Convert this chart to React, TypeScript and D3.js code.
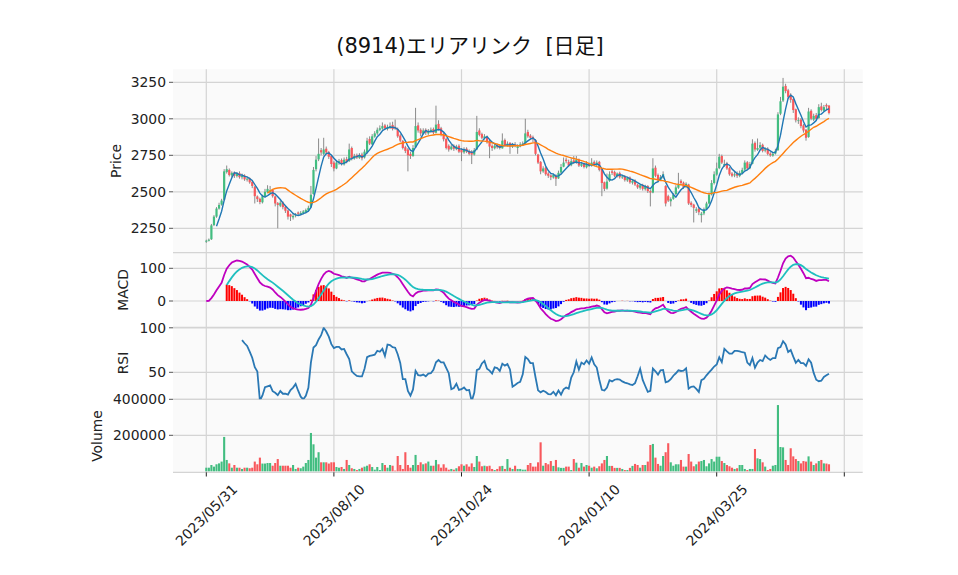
import React from "react";
import * as d3 from "d3";

const W = 958;
const H = 575;

const title = "(8914)エリアリンク  [日足]";

const openP = [
  2158, 2165, 2175, 2272, 2330, 2385, 2412, 2445, 2635, 2650, 2612, 2632, 2608, 2628, 2600, 2612, 2583, 2592, 2568, 2535,
  2468, 2452, 2428, 2470, 2498, 2495, 2512, 2468, 2422, 2405, 2428, 2398, 2372, 2345, 2325, 2338, 2358, 2348, 2355, 2362,
  2372, 2395, 2485, 2655, 2722, 2785, 2760, 2795, 2772, 2745, 2700, 2660, 2698, 2718, 2688, 2725, 2710, 2800, 2728, 2750,
  2732, 2755, 2735, 2770, 2862, 2825, 2878, 2900, 2925, 2933, 2955, 2930, 2940, 2958, 2945, 2930, 2885, 2848, 2805, 2790,
  2760, 2745, 2805, 2955, 2925, 2898, 2925, 2900, 2912, 2930, 2905, 2965, 2935, 2895, 2862, 2815, 2792, 2815, 2792, 2815,
  2790, 2770, 2795, 2780, 2775, 2755, 2790, 2920, 2895, 2868, 2878, 2850, 2815, 2798, 2822, 2815, 2798, 2855, 2818, 2835,
  2808, 2825, 2800, 2812, 2822, 2832, 2910, 2885, 2875, 2855, 2755, 2705, 2640, 2665, 2625, 2612, 2598, 2612, 2592, 2632,
  2672, 2720, 2705, 2682, 2715, 2698, 2722, 2678, 2695, 2668, 2692, 2678, 2705, 2683, 2705, 2655, 2565, 2522, 2575, 2640,
  2635, 2608, 2628, 2598, 2608, 2578, 2598, 2562, 2578, 2548, 2528, 2548, 2518, 2540, 2505, 2495, 2665, 2615, 2582, 2598,
  2540, 2470, 2435, 2452, 2485, 2528, 2575, 2562, 2532, 2550, 2425, 2412, 2370, 2385, 2340, 2352, 2382, 2420, 2482, 2560,
  2618, 2662, 2745, 2680, 2695, 2662, 2625, 2612, 2625, 2608, 2628, 2652, 2702, 2662, 2692, 2835, 2788, 2802, 2822, 2782,
  2795, 2762, 2748, 2762, 2785, 3035, 3125, 3225, 3195, 3165, 3135, 3065, 2985, 2995, 2955, 2925, 2875, 3055, 2995, 3025,
  3005, 3085, 3055, 3095, 3090,
];

const highP = [
  2172, 2180, 2280, 2340, 2395, 2425, 2452, 2655, 2680, 2660, 2640, 2640, 2635, 2640, 2625, 2620, 2600, 2598, 2575, 2540,
  2475, 2460, 2480, 2520, 2545, 2540, 2518, 2475, 2430, 2440, 2435, 2405, 2378, 2350, 2352, 2355, 2365, 2368, 2375, 2385,
  2405, 2540, 2670, 2745, 2865, 2800, 2870, 2810, 2780, 2750, 2710, 2715, 2725, 2728, 2735, 2740, 2830, 2810, 2760, 2762,
  2765, 2768, 2790, 2870, 2880, 2895, 2915, 2940, 2955, 2975, 2965, 2960, 2975, 2980, 2995, 2940, 2895, 2855, 2815, 2800,
  2775, 2820, 3075, 2975, 2935, 2935, 2935, 2930, 2940, 2940, 3090, 2990, 2945, 2905, 2870, 2825, 2825, 2825, 2822, 2825,
  2800, 2805, 2805, 2790, 2785, 2800, 3020, 2935, 2905, 2895, 2885, 2860, 2825, 2830, 2830, 2825, 2900, 2865, 2845, 2840,
  2835, 2840, 2825, 2840, 2845, 3000, 2925, 2895, 2885, 2860, 2760, 2710, 2675, 2670, 2635, 2620, 2625, 2620, 2645, 2690,
  2735, 2735, 2720, 2730, 2745, 2745, 2728, 2705, 2700, 2710, 2700, 2730, 2715, 2715, 2712, 2660, 2570, 2625, 2640, 2650,
  2645, 2632, 2638, 2612, 2615, 2600, 2605, 2585, 2585, 2555, 2552, 2555, 2548, 2545, 2515, 2730, 2680, 2625, 2615, 2640,
  2545, 2480, 2462, 2490, 2545, 2630, 2585, 2570, 2565, 2555, 2435, 2418, 2395, 2392, 2362, 2392, 2432, 2495, 2580, 2640,
  2700, 2760, 2755, 2720, 2705, 2670, 2635, 2635, 2640, 2645, 2665, 2715, 2710, 2705, 2860, 2845, 2865, 2840, 2830, 2805,
  2805, 2772, 2775, 2795, 3045, 3150, 3280, 3240, 3205, 3175, 3140, 3070, 3010, 3005, 2965, 2930, 3075, 3065, 3035, 3040,
  3100, 3110, 3095, 3105, 3095,
];

const lowP = [
  2150, 2160, 2170, 2265, 2322, 2378, 2405, 2440, 2625, 2605, 2600, 2595, 2598, 2590, 2585, 2575, 2570, 2555, 2525, 2420,
  2430, 2415, 2420, 2460, 2490, 2485, 2460, 2400, 2250, 2395, 2380, 2355, 2310, 2300, 2310, 2325, 2335, 2340, 2345, 2352,
  2365, 2390, 2480, 2640, 2710, 2750, 2750, 2755, 2725, 2670, 2640, 2655, 2685, 2680, 2680, 2695, 2705, 2715, 2720, 2725,
  2725, 2715, 2728, 2760, 2820, 2820, 2870, 2890, 2915, 2925, 2925, 2920, 2930, 2920, 2925, 2870, 2840, 2790, 2765, 2640,
  2725, 2740, 2800, 2905, 2880, 2890, 2890, 2890, 2905, 2895, 2900, 2920, 2880, 2845, 2790, 2775, 2785, 2780, 2785, 2765,
  2710, 2760, 2765, 2750, 2690, 2748, 2785, 2880, 2860, 2858, 2830, 2730, 2780, 2790, 2795, 2790, 2795, 2810, 2810, 2760,
  2800, 2805, 2760, 2805, 2815, 2825, 2870, 2855, 2840, 2750, 2690, 2620, 2630, 2610, 2595, 2580, 2590, 2540, 2588, 2625,
  2668, 2695, 2670, 2675, 2690, 2692, 2670, 2670, 2660, 2660, 2670, 2672, 2675, 2675, 2640, 2470, 2505, 2515, 2568, 2615,
  2600, 2598, 2590, 2588, 2570, 2568, 2555, 2550, 2540, 2520, 2515, 2508, 2508, 2492, 2400, 2490, 2600, 2565, 2575, 2590,
  2400, 2430, 2400, 2445, 2478, 2520, 2545, 2520, 2525, 2410, 2395, 2290, 2355, 2340, 2290, 2340, 2375, 2415, 2475, 2550,
  2610, 2655, 2690, 2670, 2650, 2610, 2600, 2600, 2595, 2600, 2620, 2645, 2650, 2655, 2688, 2775, 2780, 2790, 2770, 2770,
  2750, 2740, 2740, 2755, 2780, 3025, 3115, 3175, 3135, 3110, 3040, 2975, 2965, 2935, 2905, 2850, 2870, 2990, 2985, 2990,
  3000, 3050, 3048, 3060, 3030,
];

const closeP = [
  2165, 2172, 2270, 2330, 2385, 2410, 2440, 2640, 2655, 2615, 2630, 2610, 2625, 2600, 2610, 2585, 2590, 2565, 2540, 2470,
  2450, 2430, 2470, 2500, 2520, 2510, 2470, 2420, 2410, 2425, 2395, 2370, 2330, 2330, 2335, 2345, 2350, 2355, 2365, 2375,
  2390, 2480, 2650, 2720, 2760, 2770, 2790, 2770, 2740, 2690, 2660, 2700, 2710, 2690, 2720, 2705, 2790, 2730, 2745, 2735,
  2750, 2730, 2775, 2850, 2830, 2880, 2900, 2925, 2935, 2950, 2935, 2945, 2950, 2930, 2935, 2880, 2850, 2800, 2780, 2750,
  2745, 2800, 2950, 2920, 2900, 2920, 2905, 2915, 2925, 2905, 2960, 2930, 2890, 2860, 2800, 2790, 2810, 2795, 2810, 2775,
  2770, 2790, 2775, 2760, 2755, 2785, 2910, 2890, 2870, 2880, 2840, 2810, 2800, 2815, 2805, 2800, 2850, 2820, 2830, 2810,
  2820, 2815, 2810, 2825, 2830, 2900, 2880, 2870, 2860, 2760, 2700, 2640, 2660, 2620, 2610, 2600, 2615, 2590, 2630, 2670,
  2700, 2710, 2680, 2710, 2700, 2720, 2680, 2690, 2670, 2690, 2680, 2700, 2685, 2700, 2650, 2560, 2520, 2570, 2620, 2630,
  2610, 2625, 2600, 2605, 2580, 2595, 2565, 2575, 2550, 2530, 2545, 2520, 2540, 2505, 2495, 2660, 2610, 2580, 2600, 2620,
  2420, 2440, 2450, 2480, 2530, 2550, 2560, 2530, 2555, 2420, 2410, 2390, 2380, 2360, 2350, 2380, 2420, 2480, 2560, 2620,
  2660, 2740, 2700, 2690, 2660, 2620, 2610, 2620, 2610, 2630, 2650, 2700, 2660, 2690, 2830, 2790, 2800, 2820, 2780, 2790,
  2760, 2750, 2760, 2780, 3030, 3120, 3220, 3190, 3150, 3130, 3060, 2990, 2990, 2950, 2920, 2870, 3050, 3000, 3020, 3000,
  3080, 3060, 3080, 3085, 3040,
];

const volume = [
  20000, 20000, 35000, 26000, 39000, 44000, 54000, 191000, 63000, 44000, 20000, 35000, 20000, 20000, 13000, 20000, 20000, 17000, 20000, 54000,
  39000, 76000, 43000, 43000, 46000, 46000, 31000, 46000, 68000, 31000, 31000, 31000, 31000, 20000, 35000, 13000, 20000, 17000, 26000, 46000,
  63000, 213000, 150000, 76000, 106000, 50000, 50000, 50000, 43000, 50000, 50000, 24000, 20000, 24000, 13000, 63000, 35000, 17000, 13000, 7000,
  13000, 20000, 26000, 31000, 39000, 24000, 9000, 24000, 7000, 46000, 35000, 20000, 35000, 31000, 4000, 85000, 35000, 13000, 106000, 35000,
  20000, 35000, 91000, 35000, 50000, 39000, 44000, 54000, 31000, 31000, 63000, 39000, 20000, 39000, 20000, 9000, 13000, 9000, 17000, 28000,
  39000, 31000, 39000, 26000, 44000, 24000, 85000, 54000, 28000, 31000, 28000, 31000, 13000, 7000, 13000, 28000, 30000, 13000, 68000, 20000,
  13000, 31000, 13000, 13000, 9000, 9000, 35000, 46000, 26000, 26000, 50000, 161000, 31000, 46000, 39000, 57000, 30000, 63000, 22000, 19000,
  19000, 26000, 26000, 7000, 68000, 48000, 20000, 46000, 26000, 35000, 31000, 20000, 26000, 17000, 28000, 44000, 63000, 85000, 30000, 30000,
  19000, 19000, 19000, 13000, 7000, 7000, 19000, 30000, 41000, 35000, 20000, 35000, 35000, 54000, 146000, 152000, 76000, 41000, 31000, 85000,
  106000, 156000, 50000, 31000, 39000, 39000, 63000, 26000, 26000, 96000, 54000, 28000, 39000, 54000, 57000, 63000, 28000, 44000, 68000, 54000,
  81000, 81000, 57000, 46000, 35000, 28000, 20000, 13000, 17000, 35000, 35000, 13000, 7000, 13000, 13000, 124000, 72000, 68000, 50000, 26000,
  7000, 13000, 31000, 35000, 368000, 135000, 133000, 63000, 35000, 128000, 83000, 68000, 57000, 44000, 57000, 54000, 83000, 54000, 35000, 44000,
  57000, 63000, 44000, 43000, 39000,
];

const xTickIdx = [0, 50, 100, 150, 200, 250];
const xTickLabels = ["2023/05/31", "2023/08/10", "2023/10/24", "2024/01/10", "2024/03/25", ""];
const priceTicks = [2250, 2500, 2750, 3000, 3250];
const macdTicks = [0, 100];
const rsiTicks = [50, 100];
const volTicks = [200000, 400000];

const UP = "#42bd80";
const DOWN = "#f8585c";
const GRID = "#d4d4d4";
const BG = "#fafafa";
const FONT = "DejaVu Sans, 'Noto Sans CJK JP', sans-serif";

function sma(a: number[], n: number): (number | null)[] {
  return a.map((_, i) => (i < n - 1 ? null : (d3.mean(a.slice(i - n + 1, i + 1)) as number)));
}
function ema(a: number[], span: number): number[] {
  const k = 2 / (span + 1);
  const out: number[] = [];
  a.forEach((v, i) => out.push(i === 0 ? v : k * v + (1 - k) * out[i - 1]));
  return out;
}
function rsi(a: number[], n: number): (number | null)[] {
  return a.map((_, i) => {
    if (i < n) return null;
    let g = 0,
      l = 0;
    for (let j = i - n + 1; j <= i; j++) {
      const d = a[j] - a[j - 1];
      if (d > 0) g += d;
      else l -= d;
    }
    if (g + l === 0) return 50;
    return (100 * g) / (g + l);
  });
}

const PL = 173,
  PR = 862.7;
const panels = {
  price: [69.3, 252.7],
  macd: [252.7, 327.3],
  rsi: [327.3, 399.3],
  vol: [399.3, 472.3],
};

export default function App() {
  const n = closeP.length;
  const idx = d3.range(n);
  const x = d3.scaleLinear().domain([0, 250]).range([206.3, 844.3]);
  const yP = d3.scaleLinear().domain([2250, 3250]).range([228.3, 82.3]);
  const yM = d3.scaleLinear().domain([0, 100]).range([301, 268.3]);
  const yR = d3.scaleLinear().domain([50, 100]).range([372.3, 327.8]);
  const yV = d3.scaleLinear().domain([0, 400000]).range([471.3, 399.3]);

  const ma5 = sma(closeP, 5);
  const ma25 = sma(closeP, 25);
  const e12 = ema(closeP, 12);
  const e26 = ema(closeP, 26);
  const macd = e12.map((v, i) => v - e26[i]);
  const sig = ema(macd, 9);
  const hist = macd.map((v, i) => v - sig[i]);
  const rsiV = rsi(closeP, 14);

  const mkLine = (vals: (number | null)[], y: d3.ScaleLinear<number, number>, start = 0) =>
    d3
      .line<number>()
      .defined((i) => i >= start && vals[i] != null)
      .x((i) => x(i))
      .y((i) => y(vals[i] as number))(idx) || "";

  const bw = 2.2;
  const vw = 2.1;
  const up = (i: number) => closeP[i] >= openP[i];

  const panelRect = (k: keyof typeof panels) => {
    const [t, b] = panels[k];
    return <rect x={PL} y={t} width={PR - PL} height={b - t} fill={BG} />;
  };

  const vgrid = (k: keyof typeof panels) => {
    const [t, b] = panels[k];
    return xTickIdx.map((v) => (
      <line key={k + v} x1={x(v)} x2={x(v)} y1={t} y2={b} stroke={GRID} strokeWidth={1.2} />
    ));
  };
  const hgrid = (ticks: number[], y: (v: number) => number, k: string, fmt: (v: number) => string) =>
    ticks.map((v) => (
      <g key={k + v}>
        <line x1={PL} x2={PR} y1={y(v)} y2={y(v)} stroke={GRID} strokeWidth={1.2} />
        <line x1={PL - 4} x2={PL} y1={y(v)} y2={y(v)} stroke="#555" strokeWidth={1} />
        <text x={PL - 7} y={y(v)} textAnchor="end" dominantBaseline="central" fontSize={13.9} fill="#222">
          {fmt(v)}
        </text>
      </g>
    ));

  const clip = (k: keyof typeof panels) => {
    const [t, b] = panels[k];
    return (
      <clipPath id={"c-" + k}>
        <rect x={PL} y={t} width={PR - PL} height={b - t} />
      </clipPath>
    );
  };

  const ylabel = (txt: string, cx: number, cy: number) => (
    <text
      transform={`translate(${cx},${cy}) rotate(-90)`}
      textAnchor="middle"
      dominantBaseline="central"
      fontSize={13.9}
      fill="#222"
    >
      {txt}
    </text>
  );

  return (
    <svg width={W} height={H} style={{ display: "block", position: "absolute", left: 0, top: 0 }} fontFamily={FONT}>
      <rect width={W} height={H} fill="#fff" />
      <defs>
        {clip("price")}
        {clip("macd")}
        {clip("rsi")}
        {clip("vol")}
      </defs>
      <text x={470} y={53} textAnchor="middle" fontSize={21} fill="#111" style={{ whiteSpace: "pre" }}>
        {title}
      </text>

      {panelRect("price")}
      {panelRect("macd")}
      {panelRect("rsi")}
      {panelRect("vol")}
      {vgrid("price")}
      {vgrid("macd")}
      {vgrid("rsi")}
      {vgrid("vol")}
      {hgrid(priceTicks, yP, "p", (v) => String(v))}
      {hgrid(macdTicks, yM, "m", (v) => String(v))}
      {hgrid(rsiTicks, yR, "r", (v) => String(v))}
      {hgrid(volTicks, yV, "v", (v) => String(v))}

      {[panels.macd[0], panels.rsi[0], panels.vol[0], panels.vol[1]].map((y, i) => (
        <line key={"sep" + i} x1={PL} x2={PR} y1={y} y2={y} stroke={GRID} strokeWidth={1.2} />
      ))}

      <g clipPath="url(#c-price)">
        {idx.map((i) => (
          <line key={"w" + i} x1={x(i)} x2={x(i)} y1={yP(highP[i])} y2={yP(lowP[i])} stroke="#8a8a8a" strokeWidth={1} />
        ))}
        {idx.map((i) => {
          const t = yP(Math.max(openP[i], closeP[i]));
          const b = yP(Math.min(openP[i], closeP[i]));
          return (
            <rect key={"b" + i} x={x(i) - bw / 2} y={t} width={bw} height={Math.max(0.8, b - t)} fill={up(i) ? UP : DOWN} />
          );
        })}
        <path d={mkLine(ma5, yP)} fill="none" stroke="#1f77b4" strokeWidth={1.4} />
        <path d={mkLine(ma25, yP)} fill="none" stroke="#ff7f0e" strokeWidth={1.4} />
      </g>

      <g clipPath="url(#c-macd)">
        {idx
          .filter((i) => i >= 8)
          .map((i) => {
            const v = hist[i];
            const y0 = yM(0);
            const y1 = yM(v);
            return (
              <rect
                key={"h" + i}
                x={x(i) - 1}
                y={Math.min(y0, y1)}
                width={2}
                height={Math.abs(y1 - y0)}
                fill={v >= 0 ? "#ff0000" : "#0000ff"}
              />
            );
          })}
        <path d={mkLine(macd, yM)} fill="none" stroke="#bf00bf" strokeWidth={1.8} />
        <path d={mkLine(sig, yM, 8)} fill="none" stroke="#1fbfbf" strokeWidth={1.8} />
      </g>

      <g clipPath="url(#c-rsi)">
        <path d={mkLine(rsiV, yR)} fill="none" stroke="#2a78b4" strokeWidth={1.8} />
      </g>

      <g clipPath="url(#c-vol)">
        {idx.map((i) => (
          <rect
            key={"v" + i}
            x={x(i) - vw / 2}
            y={yV(volume[i])}
            width={vw}
            height={yV(0) - yV(volume[i])}
            fill={up(i) ? UP : DOWN}
          />
        ))}
      </g>

      {xTickIdx.map((v, k) => (
        <g key={"xt" + v}>
          <line x1={x(v)} x2={x(v)} y1={472.3} y2={476.5} stroke="#222" strokeWidth={1} />
          <text
            transform={`translate(${x(v)},${515}) rotate(-45)`}
            textAnchor="middle"
            dominantBaseline="central"
            fontSize={13.9}
            fill="#222"
          >
            {xTickLabels[k]}
          </text>
        </g>
      ))}

      {ylabel("Price", 116, 161)}
      {ylabel("MACD", 123, 290)}
      {ylabel("RSI", 123, 363)}
      {ylabel("Volume", 97, 436)}
    </svg>
  );
}
